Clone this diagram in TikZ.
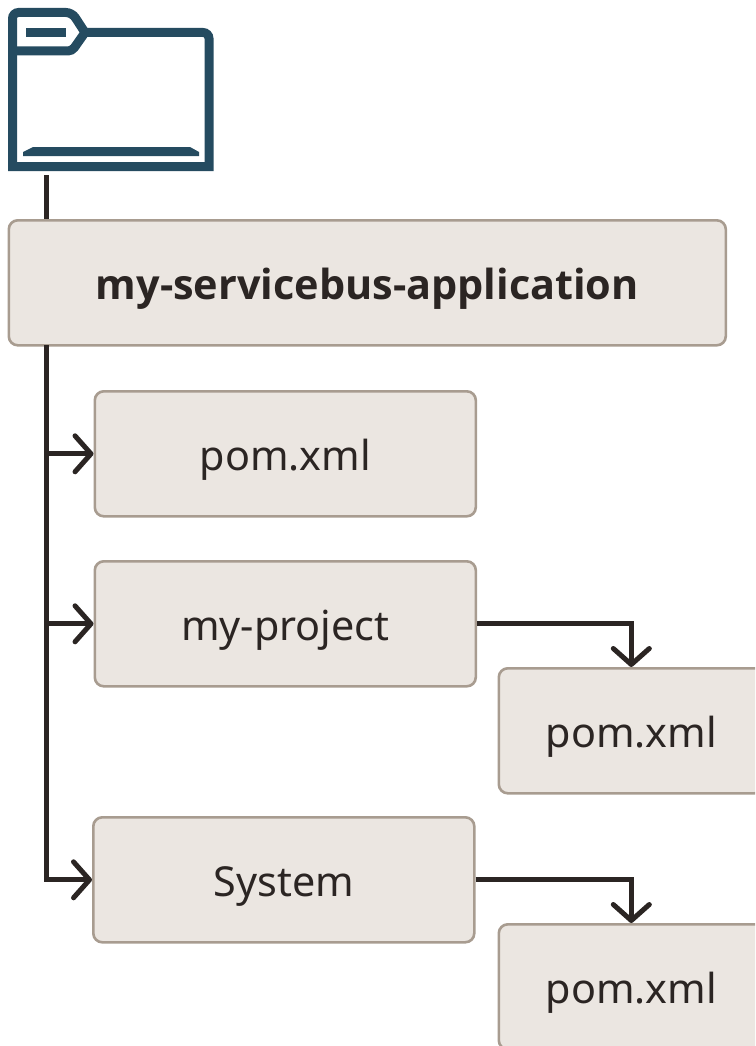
\documentclass[tikz,border=0pt]{standalone}
\usepackage{fontspec}
\setmainfont{Noto Sans}
\newfontfamily\appfont{Open Sans}
\usetikzlibrary{arrows.meta}
\definecolor{boxfill}{HTML}{EBE6E1}
\definecolor{boxline}{HTML}{A89C90}
\definecolor{ink}{HTML}{2B2523}
\definecolor{folder}{HTML}{254B60}
\tikzset{
  filebox/.style={draw=boxline,fill=boxfill,line width=2.6pt,rounded corners=9pt,minimum height=125pt,inner sep=0pt,text=ink,text height=42pt,text depth=8pt,font=\fontsize{41.3}{48}\selectfont},
  conn/.style={draw=ink,line width=5pt},
  connarrow/.style={conn,-{Straight Barb[length=16pt,width=36pt,round,line width=5pt]}},
  foldline/.style={draw=folder,line width=9pt,line join=miter}
}
\begin{document}
\begin{tikzpicture}[x=1pt,y=-1pt]
\useasboundingbox (0,0) rectangle (755,1046);
\clip (0,0) rectangle (755,1046);
% folder icon
\draw[foldline] (12.5,166.5) [rounded corners=6pt] -- (12.5,12.5) -- (72,12.5) [sharp corners] -- (85,32.5) [rounded corners=6pt] -- (209,32.5) [sharp corners] -- (209,166.5) -- cycle;
\draw[foldline,rounded corners=4pt] (12.5,51) -- (72,51) -- (85,32.5);
\fill[folder] (26,28) rectangle (66,37);
\fill[folder] (23,156) -- (23,152) -- (33,147) -- (190,147) -- (199,152) -- (199,156) -- cycle;
\coordinate (stub) at (46.5,175);
% boxes
\node[filebox,minimum width=717pt,anchor=north west,font=\fontsize{41.4}{48}\selectfont\appfont\bfseries] (app) at (7.5,219) {my-servicebus-application};
\node[filebox,minimum width=381pt,anchor=north west] (pom1) at (93.5,390) {pom.xml};
\node[filebox,minimum width=381pt,anchor=north west] (proj) at (93.5,560) {my-project};
\node[filebox,minimum width=265pt,anchor=north west] (pom2) at (497.5,667) {pom.xml};
\node[filebox,minimum width=381pt,anchor=north west] (sys) at (92,816) {System};
\node[filebox,minimum width=265pt,anchor=north west] (pom3) at (497.5,923) {pom.xml};
% connectors
\coordinate (trunktop) at (46.5,345);
\draw[conn] (stub) -- (stub |- app.north);
\draw[connarrow] (trunktop) -- (trunktop |- sys.west) -- (sys.west);
\draw[connarrow] (trunktop |- pom1.west) -- (pom1.west);
\draw[connarrow] (trunktop |- proj.west) -- (proj.west);
\draw[connarrow] (proj.east) -- (pom2.north |- proj.east) -- (pom2.north);
\draw[connarrow] (sys.east) -- (pom3.north |- sys.east) -- (pom3.north);
\end{tikzpicture}
\end{document}
